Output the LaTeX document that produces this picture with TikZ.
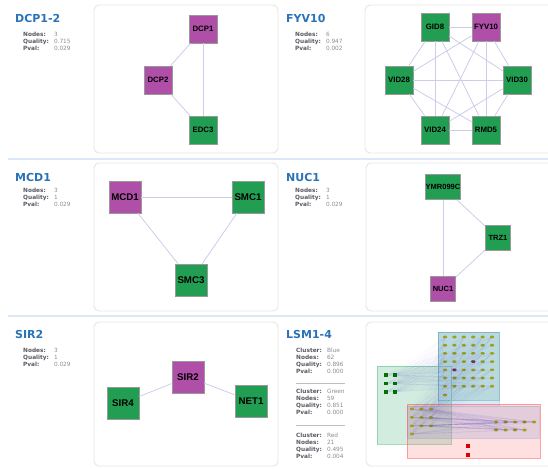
\documentclass[tikz,border=0pt]{standalone}
\usepackage{fontspec}
\setmainfont{DejaVu Sans}
\newfontfamily\genefont{Liberation Sans}
\usetikzlibrary{positioning}
\definecolor{mmag}{rgb}{0.69, 0.31, 0.66}
\definecolor{mgreen}{rgb}{0.13, 0.62, 0.32}
\definecolor{mtitle}{rgb}{0.16, 0.45, 0.72}
\definecolor{mlink}{rgb}{0.80, 0.80, 0.92}
\definecolor{molive}{rgb}{0.62, 0.62, 0.12}
\definecolor{mpurp}{rgb}{0.55, 0.15, 0.45}
\definecolor{msep}{rgb}{0.86, 0.91, 0.97}
\definecolor{infolab}{rgb}{0.35, 0.35, 0.38}
\definecolor{infoval}{rgb}{0.55, 0.55, 0.58}
\definecolor{mclblue}{rgb}{0.45, 0.62, 0.88}
\definecolor{mclgreen}{rgb}{0.30, 0.72, 0.50}
\tikzset{gene/.style = {draw = black!40, line width = 0.8pt, inner sep = 0, minimum size = 28,
                        font = \genefont\bfseries\fontsize{7.8}{8}\selectfont},
         bait/.style = {gene, fill = mmag},
         prey/.style = {gene, fill = mgreen},
         large/.style = {minimum size = 32, font = \genefont\bfseries\fontsize{9.7}{10}\selectfont},
         small/.style = {minimum size = 25, font = \genefont\bfseries\fontsize{7.5}{8}\selectfont},
         link/.style = {mlink, line width = 0.8pt},
         faint/.style = {blue!70!black, opacity = 0.025, line width = 0.4pt},
         panel/.style = {draw = black!10, line width = 0.9pt, rounded corners = 5},
         title/.style = {anchor = west, inner sep = 0, text = mtitle, font = \bfseries\fontsize{11}{11}\selectfont},
         info/.style = {anchor = north west, inner sep = 0, font = \fontsize{5.8}{7}\selectfont},
         dot/.style = {fill = molive, inner sep = 0, minimum width = 4.5, minimum height = 2.6, rounded corners = 1.2},
         sq/.style = {inner sep = 0, minimum width = 4.2, minimum height = 3.6}}

\begin{document}
\begin{tikzpicture}[x = 1pt, y = -1pt]
       \useasboundingbox (0, 0) rectangle (548, 468);

       % panels and separators
       \draw [panel] (94, 5) rectangle (278, 153);
       \draw [panel] (365, 5) rectangle (560, 153);
       \draw [panel] (94, 163) rectangle (278, 311);
       \draw [panel] (366, 163) rectangle (560, 311);
       \draw [panel] (94, 322) rectangle (278, 466);
       \draw [panel] (366, 322) rectangle (560, 466);
       \draw [msep, line width = 1.5pt] (8, 159) -- (548, 159);
       \draw [msep, line width = 1.5pt] (8, 316) -- (548, 316);

       % DCP1-2
       \node [title] (tdcp) at (15, 18) {DCP1-2};
       \node [info] (idcp) at (23, 31) {\begin{tabular}{@{}l@{\hspace{5pt}}l@{}}
              \textcolor{infolab}{\bfseries Nodes:} & \textcolor{infoval}{3}\\
              \textcolor{infolab}{\bfseries Quality:} & \textcolor{infoval}{0.715}\\
              \textcolor{infolab}{\bfseries Pval:} & \textcolor{infoval}{0.029}\end{tabular}};
       \node [bait] (dcp1) at (203, 29) {DCP1};
       \node [bait] (dcp2) at (158, 80) {DCP2};
       \node [prey] (edc3) at (203, 130) {EDC3};
       \draw [link] (dcp1) -- (dcp2);
       \draw [link] (dcp2) -- (edc3);
       \draw [link] (dcp1) -- (edc3);

       % FYV10
       \node [title] (tfyv) at (286, 18) {FYV10};
       \node [info] (ifyv) at (295, 31) {\begin{tabular}{@{}l@{\hspace{5pt}}l@{}}
              \textcolor{infolab}{\bfseries Nodes:} & \textcolor{infoval}{6}\\
              \textcolor{infolab}{\bfseries Quality:} & \textcolor{infoval}{0.947}\\
              \textcolor{infolab}{\bfseries Pval:} & \textcolor{infoval}{0.002}\end{tabular}};
       \node [prey] (gid8) at (435, 27) {GID8};
       \node [bait] (fyv10) at (486, 27) {FYV10};
       \node [prey] (vid28) at (399, 80) {VID28};
       \node [prey] (vid30) at (517, 80) {VID30};
       \node [prey] (vid24) at (435, 130) {VID24};
       \node [prey] (rmd5) at (486, 130) {RMD5};
       \foreach \a/\b in {gid8/fyv10, gid8/vid28, gid8/vid30, gid8/vid24, gid8/rmd5,
                          fyv10/vid28, fyv10/vid30, fyv10/vid24, fyv10/rmd5,
                          vid28/vid30, vid28/vid24, vid28/rmd5,
                          vid30/vid24, vid30/rmd5, vid24/rmd5}
              \draw [link] (\a) -- (\b);

       % MCD1
       \node [title] (tmcd) at (15, 177) {MCD1};
       \node [info] (imcd) at (23, 187) {\begin{tabular}{@{}l@{\hspace{5pt}}l@{}}
              \textcolor{infolab}{\bfseries Nodes:} & \textcolor{infoval}{3}\\
              \textcolor{infolab}{\bfseries Quality:} & \textcolor{infoval}{1}\\
              \textcolor{infolab}{\bfseries Pval:} & \textcolor{infoval}{0.029}\end{tabular}};
       \node [bait, large] (mcd1) at (125, 197) {MCD1};
       \node [prey, large] (smc1) at (248, 197) {SMC1};
       \node [prey, large] (smc3) at (191, 280) {SMC3};
       \draw [link] (mcd1) -- (smc1);
       \draw [link] (mcd1) -- (smc3);
       \draw [link] (smc1) -- (smc3);

       % NUC1
       \node [title] (tnuc) at (286, 177) {NUC1};
       \node [info] (inuc) at (295, 187) {\begin{tabular}{@{}l@{\hspace{5pt}}l@{}}
              \textcolor{infolab}{\bfseries Nodes:} & \textcolor{infoval}{3}\\
              \textcolor{infolab}{\bfseries Quality:} & \textcolor{infoval}{1}\\
              \textcolor{infolab}{\bfseries Pval:} & \textcolor{infoval}{0.029}\end{tabular}};
       \node [prey, small] (ymr) at (443, 187) {YMR099C};
       \node [prey, small] (trz1) at (498, 238) {TRZ1};
       \node [bait, small] (nuc1) at (443, 289) {NUC1};
       \draw [link] (ymr) -- (trz1);
       \draw [link] (ymr) -- (nuc1);
       \draw [link] (trz1) -- (nuc1);

       % SIR2
       \node [title] (tsir) at (15, 334) {SIR2};
       \node [info] (isir) at (23, 347) {\begin{tabular}{@{}l@{\hspace{5pt}}l@{}}
              \textcolor{infolab}{\bfseries Nodes:} & \textcolor{infoval}{3}\\
              \textcolor{infolab}{\bfseries Quality:} & \textcolor{infoval}{1}\\
              \textcolor{infolab}{\bfseries Pval:} & \textcolor{infoval}{0.029}\end{tabular}};
       \node [bait, large] (sir2) at (188, 377) {SIR2};
       \node [prey, large] (sir4) at (123, 403) {SIR4};
       \node [prey, large] (net1) at (251, 401) {NET1};
       \draw [link] (sir2) -- (sir4);
       \draw [link] (sir2) -- (net1);

       % LSM1-4
       \node [title] (tlsm) at (286, 334) {LSM1-4};
       \node [info] (iblue) at (296, 347) {\begin{tabular}{@{}l@{\hspace{5pt}}l@{}}
              \textcolor{infolab}{\bfseries Cluster:} & \textcolor{infoval}{Blue}\\
              \textcolor{infolab}{\bfseries Nodes:} & \textcolor{infoval}{62}\\
              \textcolor{infolab}{\bfseries Quality:} & \textcolor{infoval}{0.896}\\
              \textcolor{infolab}{\bfseries Pval:} & \textcolor{infoval}{0.000}\end{tabular}};
       \node [info] (igreen) at (296, 388) {\begin{tabular}{@{}l@{\hspace{5pt}}l@{}}
              \textcolor{infolab}{\bfseries Cluster:} & \textcolor{infoval}{Green}\\
              \textcolor{infolab}{\bfseries Nodes:} & \textcolor{infoval}{59}\\
              \textcolor{infolab}{\bfseries Quality:} & \textcolor{infoval}{0.851}\\
              \textcolor{infolab}{\bfseries Pval:} & \textcolor{infoval}{0.000}\end{tabular}};
       \node [info] (ired) at (296, 432) {\begin{tabular}{@{}l@{\hspace{5pt}}l@{}}
              \textcolor{infolab}{\bfseries Cluster:} & \textcolor{infoval}{Red}\\
              \textcolor{infolab}{\bfseries Nodes:} & \textcolor{infoval}{21}\\
              \textcolor{infolab}{\bfseries Quality:} & \textcolor{infoval}{0.495}\\
              \textcolor{infolab}{\bfseries Pval:} & \textcolor{infoval}{0.004}\end{tabular}};
       \draw [black!25, line width = 0.8pt] (296, 383) -- (345, 383);
       \draw [black!25, line width = 0.8pt] (296, 425) -- (345, 425);

       \path [fill = mclgreen, fill opacity = 0.25, draw = mclgreen, draw opacity = 0.5]
              (377, 366) rectangle (451, 444) (438, 332) rectangle (499, 400);
       \path [fill = mclblue, fill opacity = 0.25, draw = mclblue, draw opacity = 0.35]
              (438, 332) rectangle (499, 406) (407, 406) rectangle (539, 438);
       \path [fill = red!60, fill opacity = 0.2, draw = red!60, draw opacity = 0.6]
              (407, 404) rectangle (540, 458);

       \foreach \r in {0, ..., 6}
              \foreach \c in {0, ..., 5}
                     \node [dot] (g\r\c) at ({445 + 9.4 * \c}, {337 + 8.2 * \r}) {};
       \node [dot] (g70) at (445, 395) {};
       \node [dot, fill = mpurp] (pur1) at (g33.center) {};
       \node [dot, fill = mpurp] (pur2) at (g41.center) {};
       \foreach \r in {0, 1, 2}
              \foreach \c in {0, 1, 2}
                     \node [dot] (l\r\c) at ({412 + 9.5 * \c}, {409 + 8.4 * \r}) {};
       \node [dot] (l30) at (412, 434) {};
       \foreach \c in {0, ..., 4}
              \node [dot] (rt\c) at ({496 + 9.5 * \c}, 422) {};
       \foreach \c in {0, ..., 3}
              \node [dot] (rb\c) at ({496 + 9.5 * \c}, 430) {};
       \foreach \r in {0, 1, 2}
              \foreach \c in {0, 1}
                     \node [sq, fill = green!45!black] (q\r\c) at ({386 + 9 * \c}, {375 + 8.5 * \r}) {};
       \node [sq, fill = red!85!black] (red1) at (468, 446) {};
       \node [sq, fill = red!85!black] (red2) at (468, 455) {};

       \foreach \a in {q00, q01, q10, q11, q20, q21}
              \foreach \r in {0, ..., 6}
                     \foreach \c in {0, 2, 4, 5}
                            \draw [faint] (\a) -- (g\r\c);
       \foreach \a in {l00, l01, l02, l10, l11, l12, l20, l21, l22, l30}
              \foreach \r in {0, 2, 4, 6}
                     \foreach \c in {0, 2, 4, 5}
                            \draw [faint] (\a) -- (g\r\c);
       \foreach \a in {l00, l01, l02, l10, l11, l12, l20, l21, l22, l30}
              \foreach \b in {rt0, rt2, rt4, rb1, rb3}
                     \draw [faint, opacity = 0.07] (\a) -- (\b);
\end{tikzpicture}
\end{document}
